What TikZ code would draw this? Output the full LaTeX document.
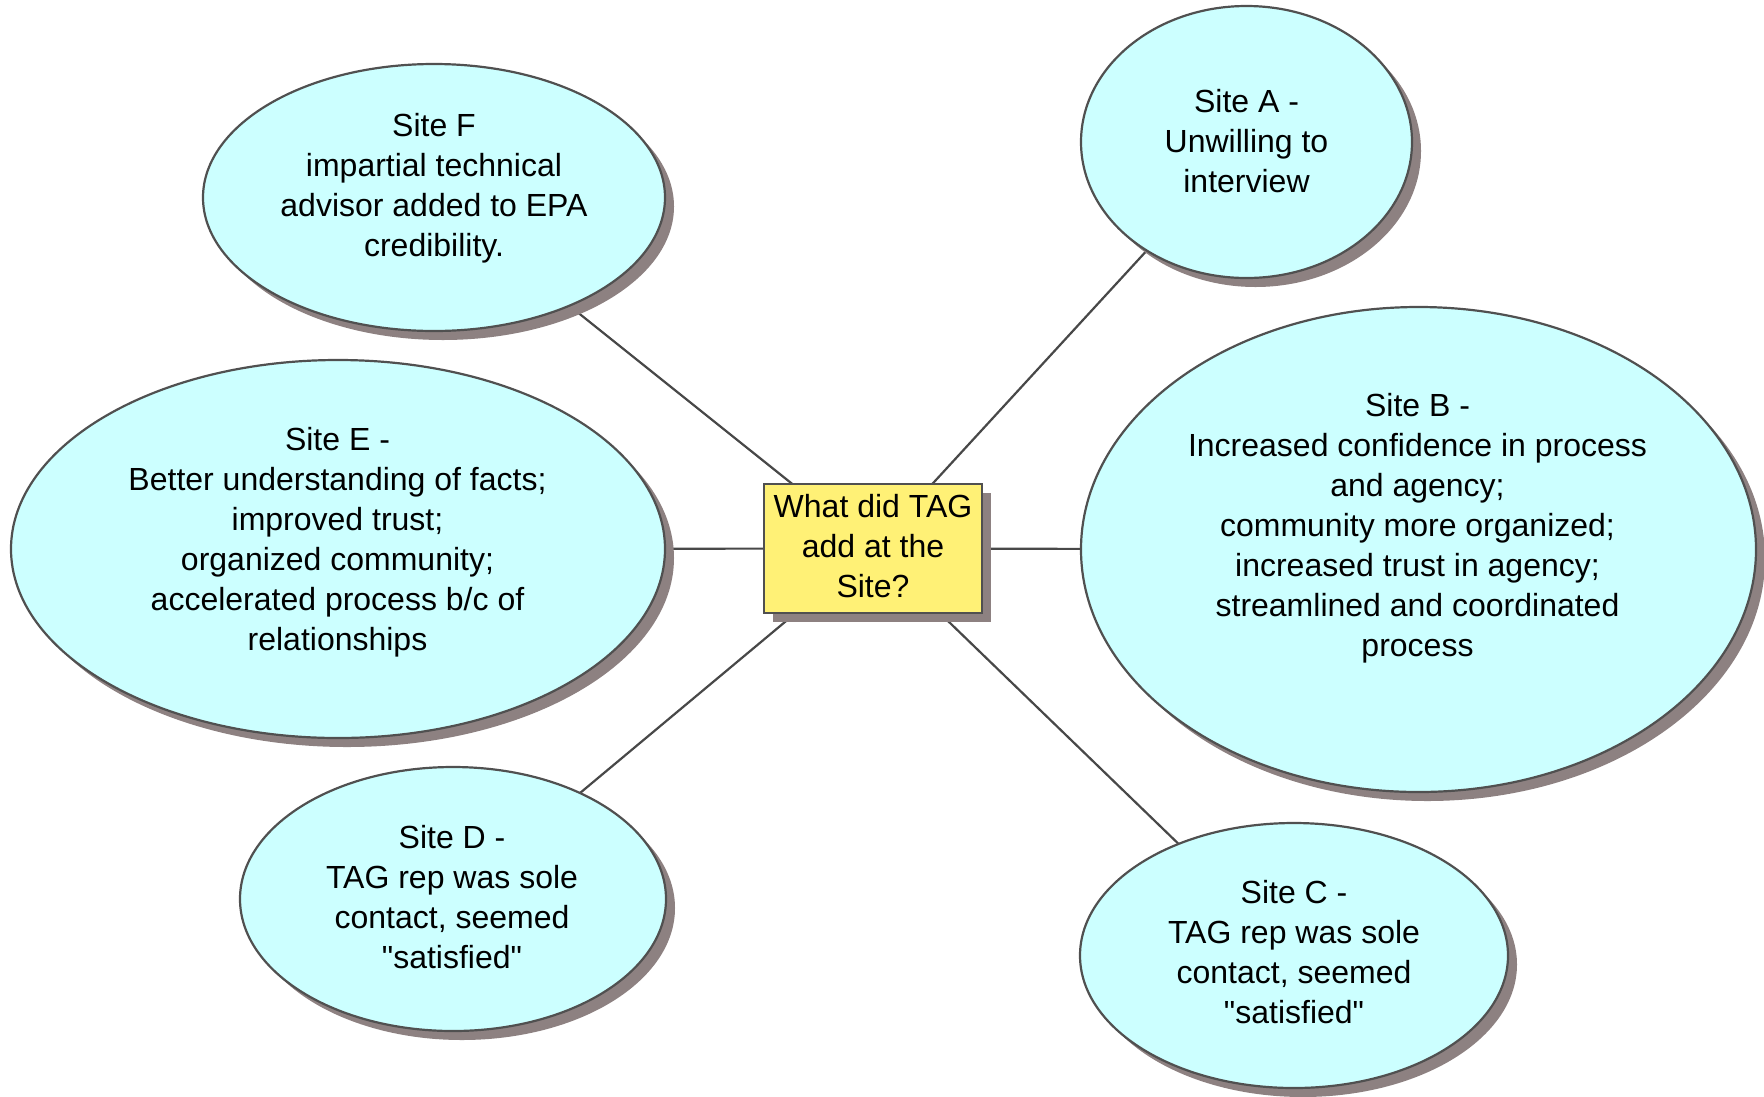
\documentclass[tikz,border=0pt]{standalone}
\usepackage{fontspec}
\setmainfont{Liberation Sans}[Ligatures=TeXOff]
\usetikzlibrary{shapes.geometric,shadows,backgrounds}
\definecolor{bubblefill}{RGB}{204,255,255}
\definecolor{outline}{RGB}{80,80,80}
\definecolor{shade}{RGB}{141,129,129}
\definecolor{notefill}{RGB}{255,241,118}
\definecolor{linkgray}{RGB}{72,72,72}
\begin{document}
\begin{tikzpicture}[x=1pt,y=-1pt,
  bubble/.style={ellipse, draw=outline, line width=2.2pt, fill=bubblefill,
    inner sep=0pt,
    drop shadow={shadow xshift=9pt, shadow yshift=-9pt, fill=shade, opacity=1}},
  hubbox/.style={rectangle, draw=outline, line width=2.6pt, fill=notefill,
    inner sep=0pt, minimum width=218pt, minimum height=129pt,
    drop shadow={shadow xshift=9pt, shadow yshift=-9pt, fill=shade, opacity=1}},
  words/.style={align=center, inner sep=0pt, font=\fontsize{32}{40}\selectfont},
  link/.style={draw=linkgray, line width=2.2pt}]
\useasboundingbox (0,0) rectangle (1764,1096);

% bubbles around the hub
\node[bubble, minimum width=462pt, minimum height=267pt] (sF) at (434,197.5) {};
\node[bubble, minimum width=331pt, minimum height=272pt] (sA) at (1246.5,142) {};
\node[bubble, minimum width=675pt, minimum height=485pt] (sB) at (1418.5,549.5) {};
\node[bubble, minimum width=654pt, minimum height=378pt] (sE) at (338,549) {};
\node[bubble, minimum width=426pt, minimum height=264pt] (sD) at (453,899) {};
\node[bubble, minimum width=428pt, minimum height=265pt] (sC) at (1294,955.5) {};

% central question
\node[hubbox] (hub) at (873,548.5) {};
\node[words] (hubtext) at (873,546) {What did TAG\\add at the\\Site?};

% bubble texts
\node[words] (tF) at (434,188.5) {Site F\\impartial technical\\advisor added to EPA\\credibility.};
\node[words] (tA) at (1246.5,141) {Site A -\\Unwilling to\\interview};
\node[words] (tB) at (1417.5,528.5) {Site B -\\Increased confidence in process\\and agency;\\community more organized;\\increased trust in agency;\\streamlined and coordinated\\process};
\node[words] (tE) at (337.5,542.5) {Site E -\\Better understanding of facts;\\improved trust;\\organized community;\\accelerated process b/c of\\relationships};
\node[words] (tD) at (452,897) {Site D -\\TAG rep was sole\\contact, seemed\\"satisfied"};
\node[words] (tC) at (1294,952) {Site C -\\TAG rep was sole\\contact, seemed\\"satisfied"};

% connectors, kept underneath the shapes
\begin{scope}[on background layer]
  \fill[white] (0,0) rectangle (1764,1096);
  \draw[link] (hub.center) -- (sF.center);
  \draw[link] (hub.center) -- (sA.center);
  \draw[link] (hub.center) -- (sB.center);
  \draw[link] (hub.center) -- (sE.center);
  \draw[link] (hub.center) -- (sD.center);
  \draw[link] (hub.center) -- (sC.center);
\end{scope}
\end{tikzpicture}
\end{document}
